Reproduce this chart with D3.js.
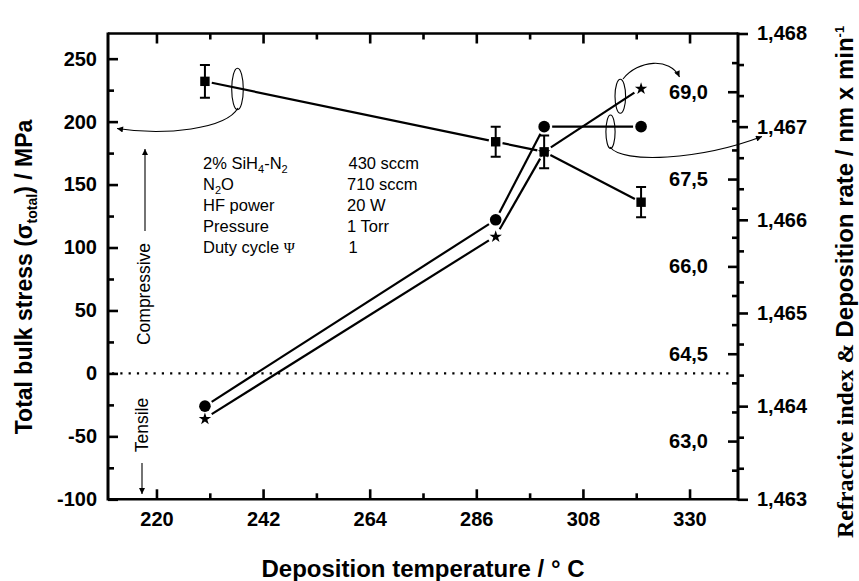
<!DOCTYPE html>
<html>
<head>
<meta charset="utf-8">
<script src="https://cdn.jsdelivr.net/npm/d3@7"></script>
<style>
body{margin:0;background:#fff;}
text{font-family:"Liberation Sans",Arial,sans-serif;fill:#000;}
</style>
</head>
<body>
<div id="chart"></div>
<script>
// values
const temps     = [230, 290, 300, 320];
const stress    = [232, 184, 176, 136];
const stressErr = [13, 12, 13, 12];
const refIndex  = [1.464, 1.466, 1.467, 1.467];
const depRate   = [63.39, 66.52, 67.97, 69.06];

const xTicks      = [220, 242, 264, 286, 308, 330];
const xMinor      = [231, 253, 275, 297, 319];
const stressTicks = [-100, -50, 0, 50, 100, 150, 200, 250];
const stressMinor = [-75, -25, 25, 75, 125, 175, 225];
const rateTicks   = [63.0, 64.5, 66.0, 67.5, 69.0];
const rateMinor   = [62.5, 63.5, 64.0, 65.0, 65.5, 66.5, 67.0, 68.0, 68.5, 69.5];
const indexTicks  = [1.463, 1.464, 1.465, 1.466, 1.467, 1.468];

const recipeNames = [
  [["2% SiH"], ["4", "sub"], ["-N"], ["2", "sub"]],
  [["N"], ["2", "sub"], ["O"]],
  [["HF power"]],
  [["Pressure"]],
  [["Duty cycle "], ["\u03A8", "psi"]]
];
const recipeValues = ["430 sccm", "710 sccm", "20 W", "1 Torr", "1"];

const W = 859, H = 581;
const pL = 108, pR = 738, pT = 33.5, pB = 499.3;

const svg = d3.select("#chart").append("svg")
    .attr("width", W)
    .attr("height", H);

svg.append("defs").append("marker")
    .attr("id", "head")
    .attr("viewBox", "0 0 10 10")
    .attr("refX", 10).attr("refY", 5)
    .attr("markerUnits", "userSpaceOnUse")
    .attr("markerWidth", 9).attr("markerHeight", 6)
    .attr("orient", "auto")
  .append("path")
    .attr("d", "M0,0L10,5L0,10z")
    .attr("fill", "#000");

const x  = d3.scaleLinear([210, 340], [pL, pR]);
const yS = d3.scaleLinear([-100, 270], [pB, pT]);
const yR = d3.scaleLinear([1.463, 1.468], [pB, pT]);
const yD = d3.scaleLinear([62, 70], [pB, pT]);

const comma = f => v => d3.format(f)(v).replace(".", ",");
const plain = v => d3.format("d")(v).replace("\u2212", "-");

function styleAxis(g, size) {
  g.select(".domain").remove();
  g.selectAll(".tick line").attr("stroke", "#000").attr("stroke-width", 2.6);
  g.selectAll(".tick text")
    .style("font-family", "'Liberation Sans',Arial,sans-serif")
    .style("font-size", size + "px")
    .style("font-weight", "bold")
    .attr("fill", "#000");
}

// bottom / top
svg.append("g").attr("transform", `translate(0,${pB})`)
    .call(d3.axisBottom(x).tickValues(xTicks).tickSize(-10).tickPadding(13).tickFormat(plain))
    .call(g => styleAxis(g, 20));
svg.append("g").attr("transform", `translate(0,${pB})`)
    .call(d3.axisBottom(x).tickValues(xMinor).tickSize(-6).tickFormat(""))
    .call(g => styleAxis(g, 20));
svg.append("g").attr("transform", `translate(0,${pT})`)
    .call(d3.axisTop(x).tickValues(xTicks).tickSize(-10).tickFormat(""))
    .call(g => styleAxis(g, 20));
svg.append("g").attr("transform", `translate(0,${pT})`)
    .call(d3.axisTop(x).tickValues(xMinor).tickSize(-6).tickFormat(""))
    .call(g => styleAxis(g, 20));

// left: stress
svg.append("g").attr("transform", `translate(${pL},0)`)
    .call(d3.axisLeft(yS).tickValues(stressTicks).tickSize(-10).tickPadding(11).tickFormat(plain))
    .call(g => styleAxis(g, 20));
svg.append("g").attr("transform", `translate(${pL},0)`)
    .call(d3.axisLeft(yS).tickValues(stressMinor).tickSize(-6).tickFormat(""))
    .call(g => styleAxis(g, 20));

// right inside: deposition rate
svg.append("g").attr("transform", `translate(${pR},0)`)
    .call(d3.axisLeft(yD).tickValues(rateTicks).tickSize(10).tickPadding(20).tickFormat(comma(".1f")))
    .call(g => styleAxis(g, 20));
svg.append("g").attr("transform", `translate(${pR},0)`)
    .call(d3.axisLeft(yD).tickValues(rateMinor).tickSize(6).tickFormat(""))
    .call(g => styleAxis(g, 20));

// right outside: refractive index
const idxMinor = [];
indexTicks.slice(0, -1).forEach(v => { idxMinor.push(v + 0.001 / 3, v + 0.002 / 3); });
svg.append("g").attr("transform", `translate(${pR},0)`)
    .call(d3.axisRight(yR).tickValues(indexTicks).tickSize(10).tickPadding(9).tickFormat(comma(".3f")))
    .call(g => styleAxis(g, 20));
svg.append("g").attr("transform", `translate(${pR},0)`)
    .call(d3.axisRight(yR).tickValues(idxMinor).tickSize(6).tickFormat(""))
    .call(g => styleAxis(g, 20));

// frame
svg.append("path")
    .attr("d", `M${pL},${pT}H${pR}M${pL},${pB}H${pR}`)
    .attr("stroke", "#000").attr("stroke-width", 2.5).attr("fill", "none");
svg.append("path")
    .attr("d", `M${pL},${pT - 1}V${pB + 1.2}M${pR},${pT - 1}V${pB + 1.2}`)
    .attr("stroke", "#000").attr("stroke-width", 3).attr("fill", "none");

// zero line
svg.append("line")
    .attr("x1", pL + 4).attr("x2", pR - 4)
    .attr("y1", yS(0)).attr("y2", yS(0))
    .attr("stroke", "#000").attr("stroke-width", 2.2)
    .attr("stroke-dasharray", "2.2,6.1");

// connecting lines that stop short of the markers
function gapLines(pts, gap) {
  const segs = [];
  for (let i = 0; i < pts.length - 1; i++) {
    const [x1, y1] = pts[i], [x2, y2] = pts[i + 1];
    const len = Math.hypot(x2 - x1, y2 - y1);
    if (len <= 2 * gap) continue;
    const ux = (x2 - x1) / len, uy = (y2 - y1) / len;
    segs.push([x1 + ux * gap, y1 + uy * gap, x2 - ux * gap, y2 - uy * gap]);
  }
  return segs;
}

const series = [
  { pts: temps.map((t, i) => [x(t), yS(stress[i])]), gap: 7 },
  { pts: temps.map((t, i) => [x(t), yR(refIndex[i])]), gap: 8 },
  { pts: temps.map((t, i) => [x(t), yD(depRate[i])]), gap: 8 }
];
series.forEach(s => {
  svg.append("g").selectAll("line")
    .data(gapLines(s.pts, s.gap))
    .enter().append("line")
      .attr("x1", d => d[0]).attr("y1", d => d[1])
      .attr("x2", d => d[2]).attr("y2", d => d[3])
      .attr("stroke", "#000").attr("stroke-width", 2.2);
});

// error bars
const eb = svg.append("g").attr("stroke", "#000").attr("stroke-width", 2);
temps.forEach((t, i) => {
  const cx = x(t), y1 = yS(stress[i] - stressErr[i]), y2 = yS(stress[i] + stressErr[i]);
  eb.append("path").attr("d", `M${cx},${y1}V${y2}M${cx - 5},${y1}H${cx + 5}M${cx - 5},${y2}H${cx + 5}`);
});

// markers
svg.append("g").selectAll("rect")
  .data(temps)
  .enter().append("rect")
    .attr("x", (d, i) => x(d) - 4.7).attr("y", (d, i) => yS(stress[i]) - 4.7)
    .attr("width", 9.4).attr("height", 9.4).attr("fill", "#000");
svg.append("g").selectAll("circle")
  .data(temps)
  .enter().append("circle")
    .attr("cx", d => x(d)).attr("cy", (d, i) => yR(refIndex[i]))
    .attr("r", 5.8).attr("fill", "#000");
svg.append("g").selectAll("path")
  .data(temps)
  .enter().append("path")
    .attr("transform", (d, i) => `translate(${x(d)},${yD(depRate[i]) + 0.6})`)
    .attr("d", d3.symbol(d3.symbolStar, 48))
    .attr("fill", "#000");

// ellipses and curved arrows pointing to the axes
const ann = svg.append("g").attr("fill", "none").attr("stroke", "#000").attr("stroke-width", 1.1);
ann.append("ellipse").attr("cx", 237.5).attr("cy", 89).attr("rx", 5.8).attr("ry", 20.8);
ann.append("ellipse").attr("cx", 620.3).attr("cy", 96.3).attr("rx", 5.3).attr("ry", 17);
ann.append("ellipse").attr("cx", 610.5).attr("cy", 131.7).attr("rx", 4.6).attr("ry", 16.7);
ann.append("path").attr("d", "M238,108C226,129 165,136 117,128.5").attr("marker-end", "url(#head)");
ann.append("path").attr("d", "M623,79C638,60 670,57 679.5,77").attr("marker-end", "url(#head)");
ann.append("path").attr("d", "M610,147C622,164 700,160 762,136.5").attr("marker-end", "url(#head)");

// compressive / tensile
ann.append("line").attr("x1", 145).attr("x2", 145).attr("y1", 231).attr("y2", 149).attr("marker-end", "url(#head)");
ann.append("line").attr("x1", 142).attr("x2", 142).attr("y1", 463).attr("y2", 494).attr("marker-end", "url(#head)");
svg.append("text")
    .attr("transform", "translate(150,294) rotate(-90)")
    .attr("text-anchor", "middle")
    .style("font-size", "17.5px")
    .text("Compressive");
svg.append("text")
    .attr("transform", "translate(148,425) rotate(-90)")
    .attr("text-anchor", "middle")
    .style("font-size", "17.5px")
    .text("Tensile");

// deposition recipe
const rec = svg.append("g").style("font-size", "16.5px");
recipeNames.forEach((parts, i) => {
  const t = rec.append("text").attr("x", 203).attr("y", 168.5 + i * 21.2);
  let shift = 0;
  parts.forEach(([s, kind]) => {
    const sp = t.append("tspan").text(s);
    if (kind === "sub") {
      sp.attr("dy", 4 - shift).style("font-size", "11px");
      shift = 4;
    } else {
      sp.attr("dy", -shift);
      shift = 0;
      if (kind === "psi") sp.style("font-family", "'Liberation Serif',serif").style("font-size", "15px");
    }
  });
  rec.append("text").attr("x", i === 0 || i === 4 ? 348.5 : 347).attr("y", 168.5 + i * 21.2).text(recipeValues[i]);
});

// axis titles
svg.append("text")
    .attr("x", (pL + pR) / 2).attr("y", 577)
    .attr("text-anchor", "middle")
    .style("font-size", "24px").style("font-weight", "bold")
    .text("Deposition temperature / \u00B0 C");

const yl = svg.append("text")
    .attr("transform", "translate(32,277) rotate(-90)")
    .attr("text-anchor", "middle")
    .style("font-size", "23px").style("font-weight", "bold");
yl.append("tspan").text("Total bulk stress (\u03C3");
yl.append("tspan").attr("dy", 5).style("font-size", "14px").text("total");
yl.append("tspan").attr("dy", -5).text(") / MPa");

const yr = svg.append("text")
    .attr("transform", "translate(853,282) rotate(-90)")
    .attr("text-anchor", "middle")
    .style("font-size", "24px").style("font-weight", "bold");
yr.append("tspan").style("font-family", "'Liberation Serif',serif").text("Refractive index & ");
yr.append("tspan").text("Deposition rate / nm x min");
yr.append("tspan").attr("dy", -9).style("font-size", "13px").text("-1");
</script>
</body>
</html>
